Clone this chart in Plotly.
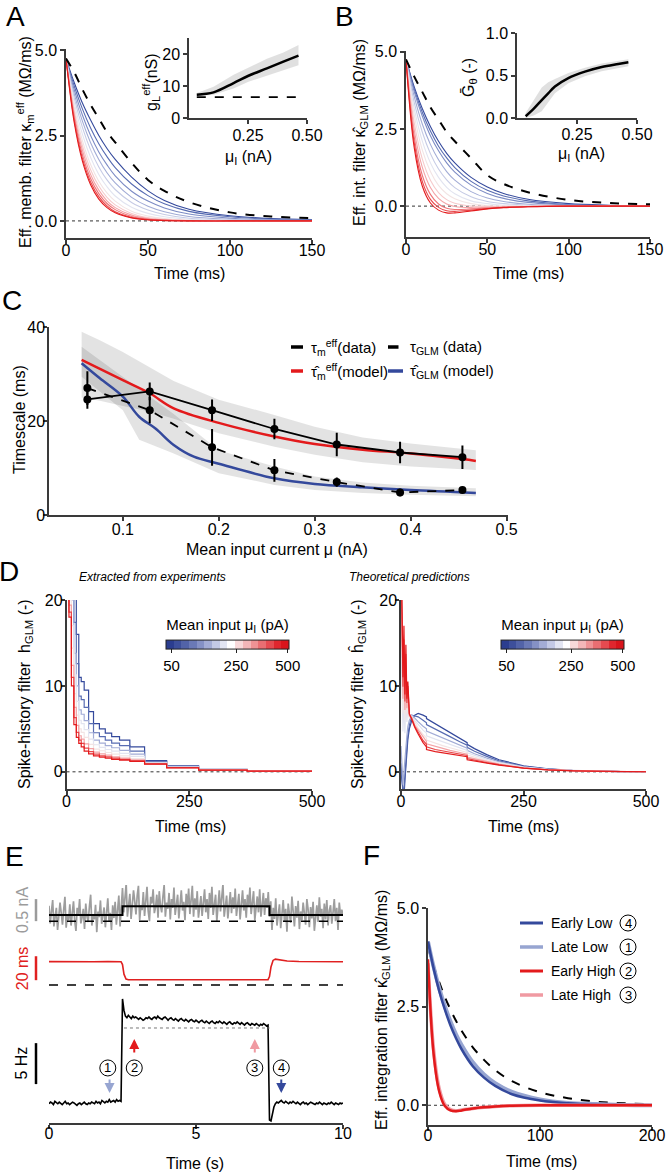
import numpy as np
import plotly.graph_objects as go

W, H = 670, 1174
FONT = "Liberation Sans, Arial, sans-serif"
NARROW = "Liberation Sans Narrow, Arial Narrow, Liberation Sans, sans-serif"

# ---------------- A: effective membrane filters (red = high input, blue = low input)
t_filter = [0, 5, 10, 15, 20, 25, 30, 40, 50, 60, 75, 100, 125, 150]
kappa_m = [
    [4.75, 2.88, 1.75, 1.06, 0.64, 0.39, 0.24, 0.09, 0.03, 0.01, 0, 0, 0, 0],
    [4.75, 2.95, 1.83, 1.14, 0.71, 0.44, 0.27, 0.10, 0.04, 0.02, 0, 0, 0, 0],
    [4.75, 3.04, 1.94, 1.24, 0.80, 0.51, 0.33, 0.13, 0.05, 0.02, 0.01, 0, 0, 0],
    [4.75, 3.13, 2.07, 1.36, 0.90, 0.59, 0.39, 0.17, 0.07, 0.03, 0.01, 0, 0, 0],
    [4.75, 3.23, 2.20, 1.50, 1.02, 0.69, 0.47, 0.22, 0.10, 0.05, 0.01, 0, 0, 0],
    [4.75, 3.34, 2.35, 1.65, 1.16, 0.82, 0.58, 0.28, 0.14, 0.07, 0.02, 0.01, 0, 0],
    [4.75, 3.47, 2.54, 1.86, 1.36, 1.00, 0.73, 0.40, 0.22, 0.12, 0.05, 0.02, 0.01, 0],
    [4.75, 3.60, 2.74, 2.08, 1.58, 1.20, 0.92, 0.54, 0.32, 0.19, 0.08, 0.03, 0.01, 0.01],
    [4.75, 3.72, 2.92, 2.29, 1.80, 1.41, 1.11, 0.69, 0.43, 0.27, 0.13, 0.05, 0.02, 0.01],
    [4.75, 3.84, 3.10, 2.50, 2.02, 1.64, 1.32, 0.87, 0.58, 0.38, 0.20, 0.08, 0.03, 0.02],
    [4.75, 3.95, 3.28, 2.72, 2.26, 1.88, 1.56, 1.08, 0.74, 0.50, 0.28, 0.12, 0.05, 0.03],
    [4.75, 4.05, 3.45, 2.95, 2.50, 2.12, 1.80, 1.28, 0.88, 0.60, 0.34, 0.15, 0.07, 0.04],
]
kappa_m_passive = [4.75, 4.35, 3.85, 3.4, 3.0, 2.6, 2.3, 1.7, 1.2, 0.88, 0.55, 0.25, 0.13, 0.08]

mu_gl = [0.033, 0.104, 0.189, 0.252, 0.330, 0.400, 0.464]
gl_eff = [7.3, 8.0, 10.9, 13.2, 15.5, 17.6, 19.5]
gl_hi = [7.8, 9.8, 13.5, 15.8, 18.5, 20.5, 22.8]
gl_lo = [6.8, 7.3, 9.2, 11.3, 13.2, 15.0, 16.5]
gl_rest = 6.5
gl_rest_mu = [0.033, 0.48]

# ---------------- B: effective integration filters
kappa_glm = [
    [4.75, 1.91, 0.65, 0.10, -0.13, -0.22, -0.22, -0.16, -0.09, -0.05, -0.02, 0, 0, 0],
    [4.75, 2.07, 0.80, 0.22, -0.04, -0.15, -0.17, -0.13, -0.08, -0.04, -0.02, 0, 0, 0],
    [4.75, 2.26, 1.00, 0.38, 0.07, -0.07, -0.11, -0.09, -0.06, -0.04, -0.01, 0, 0, 0],
    [4.75, 2.49, 1.26, 0.60, 0.25, 0.07, -0.01, -0.05, -0.04, -0.03, -0.01, 0, 0, 0],
    [4.75, 2.72, 1.53, 0.84, 0.44, 0.21, 0.09, 0.00, -0.01, -0.02, -0.01, 0, 0, 0],
    [4.75, 2.96, 1.82, 1.12, 0.67, 0.40, 0.24, 0.08, 0.02, 0.01, 0, 0, 0, 0],
    [4.75, 3.17, 2.11, 1.40, 0.93, 0.61, 0.40, 0.17, 0.08, 0.03, 0.01, 0, 0, 0],
    [4.75, 3.37, 2.40, 1.70, 1.20, 0.85, 0.60, 0.30, 0.15, 0.08, 0.03, 0, 0, 0],
    [4.75, 3.56, 2.66, 2.00, 1.50, 1.12, 0.84, 0.47, 0.26, 0.15, 0.06, 0.01, 0, 0],
    [4.75, 3.72, 2.92, 2.28, 1.79, 1.40, 1.10, 0.68, 0.41, 0.25, 0.12, 0.04, 0.01, 0],
    [4.75, 3.80, 3.04, 2.43, 1.94, 1.56, 1.25, 0.80, 0.51, 0.33, 0.17, 0.05, 0.02, 0.01],
    [4.75, 3.87, 3.16, 2.58, 2.10, 1.71, 1.40, 0.93, 0.62, 0.41, 0.22, 0.08, 0.03, 0.01],
]
kappa_glm_passive = [4.75, 4.2, 3.7, 3.2, 2.8, 2.4, 2.1, 1.55, 1.0, 0.72, 0.45, 0.2, 0.1, 0.06]

mu_g = [0.036, 0.07, 0.103, 0.13, 0.158, 0.214, 0.283, 0.353, 0.422, 0.464]
g_theta = [0.02, 0.11, 0.21, 0.29, 0.37, 0.47, 0.545, 0.60, 0.635, 0.655]
g_theta_hi = [0.06, 0.22, 0.36, 0.42, 0.46, 0.53, 0.59, 0.64, 0.67, 0.69]
g_theta_lo = [0.0, 0.03, 0.08, 0.18, 0.29, 0.41, 0.49, 0.55, 0.59, 0.61]

# ---------------- C: timescales
mu_data = [0.063, 0.128, 0.193, 0.258, 0.323, 0.389, 0.454]
tau_m_data = [24.6, 26.3, 22.3, 18.3, 15.0, 13.3, 12.3]
tau_m_err = [2.0, 1.9, 2.3, 2.2, 2.5, 2.3, 2.5]
tau_glm_data = [27.0, 22.3, 14.4, 9.5, 7.0, 4.8, 5.3]
tau_glm_err = [3.6, 2.8, 3.9, 2.4, 1.0, 0.8, 0.5]

mu_red = [0.057, 0.1, 0.128, 0.153, 0.2, 0.258, 0.3, 0.35, 0.4, 0.454, 0.468]
tau_m_model = [33.0, 28.7, 25.9, 22.7, 19.6, 16.7, 15.1, 13.9, 13.1, 11.9, 11.5]
mu_blue = [0.057, 0.076, 0.1, 0.117, 0.134, 0.153, 0.174, 0.2, 0.258, 0.3, 0.35, 0.4, 0.468]
tau_glm_model = [32.3, 29.1, 25.2, 20.9, 18.4, 14.9, 12.4, 10.9, 7.8, 6.6, 5.9, 5.3, 4.7]

mu_band1 = [0.057, 0.076, 0.1, 0.128, 0.153, 0.2, 0.258, 0.3, 0.35, 0.4, 0.468]
band1_hi = [39.0, 37.2, 34.7, 31.5, 28.5, 24.5, 21.3, 18.8, 16.5, 15.2, 13.8]
band1_lo = [25.0, 24.3, 23.2, 22.0, 20.5, 17.4, 14.5, 12.8, 11.2, 10.3, 9.6]
mu_band2 = [0.057, 0.1, 0.117, 0.153, 0.2, 0.258, 0.3, 0.35, 0.4, 0.468]
band2_hi = [35.8, 29.4, 27.0, 21.5, 13.8, 10.3, 8.2, 6.9, 6.2, 5.7]
band2_lo = [29.4, 22.3, 16.0, 13.1, 8.9, 6.4, 5.3, 4.7, 4.3, 4.0]

# ---------------- D: spike-history filters
h_edges = [0, 5, 10, 15, 20, 25, 30, 36, 45, 55, 67, 79, 92, 108, 129, 159, 204, 269, 368, 500]
h_exp = [  # red -> blue, one value per bin
    [25, 18, 10, 5.5, 4.0, 3.3, 2.9, 2.4, 2.1, 1.85, 1.7, 1.6, 1.45, 1.35, 1.2, 0.9, 0.47, 0.2, 0.08],
    [25.3, 18.6, 11.0, 6.3, 4.6, 3.7, 3.3, 2.75, 2.35, 2.05, 1.85, 1.75, 1.6, 1.45, 1.3, 0.92, 0.48, 0.2, 0.08],
    [25.6, 19.4, 12.4, 7.5, 5.4, 4.2, 3.8, 3.25, 2.7, 2.3, 2.1, 1.95, 1.75, 1.6, 1.4, 0.95, 0.5, 0.21, 0.08],
    [26.1, 20.6, 14.4, 9.1, 6.6, 5.0, 4.6, 4.0, 3.2, 2.65, 2.45, 2.25, 2.05, 1.85, 1.55, 1.0, 0.52, 0.22, 0.07],
    [26.8, 22.2, 17.0, 11.3, 8.2, 6.0, 5.6, 4.9, 3.8, 3.15, 2.85, 2.6, 2.4, 2.15, 1.8, 1.05, 0.55, 0.24, 0.07],
    [27.5, 24.0, 20.0, 13.8, 10.0, 7.2, 6.7, 5.95, 4.55, 3.7, 3.35, 3.05, 2.8, 2.5, 2.05, 1.1, 0.58, 0.25, 0.06],
    [28.6, 26.6, 24.4, 17.4, 12.6, 8.8, 8.4, 7.5, 5.6, 4.55, 4.1, 3.7, 3.35, 3.05, 2.4, 1.2, 0.64, 0.27, 0.06],
    [30, 30, 30, 22, 16, 11, 10.5, 9.5, 7.0, 5.6, 5.0, 4.5, 4.1, 3.7, 2.9, 1.3, 0.7, 0.3, 0.05],
]
t_hth = [0, 2, 4, 6, 8, 10, 12, 14, 17, 22, 28, 35, 45, 52, 52, 70, 85, 100, 120, 135, 135, 150, 175, 200, 250, 300, 350, 400, 450, 500]
h_th = [
    [25, 20, 11, 17, 9, 14.8, 8.5, 10.5, 6.8, 6.0, 5.2, 4.4, 3.4, 2.9, 2.6, 2.35, 2.2, 2.05, 1.9, 1.75, 1.4, 1.25, 1.0, 0.78, 0.42, 0.22, 0.12, 0.06, 0.03, 0.01],
    [23.0, 18.3, 9.9, 15.4, 8.2, 13.7, 8.0, 10.0, 6.7, 6.2, 5.3, 4.6, 3.65, 3.2, 2.9, 2.6, 2.45, 2.25, 2.05, 1.9, 1.55, 1.35, 1.08, 0.83, 0.44, 0.23, 0.12, 0.06, 0.03, 0.01],
    [20.5, 16.2, 8.5, 13.4, 7.2, 12.3, 7.4, 9.3, 6.5, 6.3, 5.45, 4.85, 4.0, 3.55, 3.25, 2.95, 2.7, 2.5, 2.25, 2.05, 1.7, 1.5, 1.18, 0.89, 0.47, 0.24, 0.13, 0.06, 0.03, 0.01],
    [17.5, 13.7, 6.8, 11.0, 6.0, 10.7, 6.7, 8.5, 6.3, 6.4, 5.8, 5.1, 4.35, 3.95, 3.7, 3.3, 3.05, 2.8, 2.5, 2.25, 1.95, 1.7, 1.3, 0.97, 0.5, 0.26, 0.14, 0.07, 0.03, 0.01],
    [13.8, 10.6, 4.7, 8.0, 4.5, 8.6, 5.8, 7.5, 6.3, 6.5, 6.0, 5.5, 4.85, 4.5, 4.2, 3.8, 3.5, 3.2, 2.8, 2.5, 2.2, 1.9, 1.45, 1.06, 0.55, 0.28, 0.14, 0.07, 0.03, 0.01],
    [3, 1, -1.5, 0, 1.5, 3.5, 4.2, 5.3, 6.0, 6.6, 6.2, 5.85, 5.3, 5.0, 4.75, 4.3, 3.95, 3.6, 3.1, 2.75, 2.5, 2.1, 1.6, 1.15, 0.59, 0.3, 0.15, 0.07, 0.03, 0.01],
    [1, -0.5, -2.5, -2.2, 0, 2, 3, 4.2, 5.4, 6.6, 6.5, 6.4, 6.0, 5.7, 5.5, 5.0, 4.5, 4.1, 3.5, 3.1, 2.85, 2.4, 1.8, 1.28, 0.64, 0.32, 0.16, 0.08, 0.03, 0.01],
    [0, -1, -3, -3, -1, 1, 2.5, 3.8, 5.0, 6.0, 6.6, 6.8, 6.6, 6.4, 6.2, 5.6, 5.1, 4.6, 3.9, 3.4, 3.2, 2.7, 2.0, 1.4, 0.7, 0.35, 0.17, 0.08, 0.03, 0.01],
]
cbar_ticks = ["50", "250", "500"]

# ---------------- E: step protocol
step_on, step_off, t_end = 2.5, 7.5, 10.0
input_mean = [0.14, 0.34, 0.14, 0.14]
input_mean_t = [0, step_on, step_off, t_end]
noise_low1 = [0.35, -0.05, 0.22, 0.48, -0.12, 0.1, 0.3, -0.2, 0.05, 0.42, 0.18, -0.08, 0.26, 0.55, -0.15,
              0.12, 0.02, 0.38, -0.1, 0.2, 0.45, 0.0, -0.22, 0.3, 0.15, 0.5, -0.05, 0.08, 0.28, -0.18,
              0.4, 0.1, -0.02, 0.33, 0.6, -0.1, 0.16, 0.04, 0.37, -0.25, 0.22, 0.09, 0.47, -0.06, 0.14,
              0.31, -0.14, 0.25, 0.52, 0.0, 0.19, -0.2, 0.36, 0.07, 0.44, -0.08, 0.2, 0.58, -0.12, 0.27]
noise_high = [0.75, 0.2, 0.5, 0.85, 0.1, 0.4, 0.62, 0.05, 0.3, 0.7, 0.45, 0.15, 0.58, 0.8, 0.02, 0.36, 0.25,
              0.66, 0.12, 0.48, 0.78, 0.22, 0.0, 0.55, 0.4, 0.72, 0.18, 0.32, 0.6, 0.08, 0.68, 0.35, 0.2,
              0.56, 0.82, 0.1, 0.42, 0.28, 0.64, 0.04, 0.5, 0.3, 0.76, 0.14, 0.38, 0.6, 0.06, 0.47, 0.7,
              0.24, 0.44, 0.02, 0.62, 0.33, 0.74, 0.16, 0.46, 0.8, 0.1, 0.52, 0.26, 0.68, 0.08, 0.4, 0.57,
              0.12, 0.36, 0.72, 0.2, 0.5, 0.05, 0.64, 0.3, 0.78, 0.14, 0.44, 0.6, 0.0, 0.38, 0.7, 0.22,
              0.48, 0.84, 0.1, 0.34, 0.58, 0.06, 0.42, 0.66, 0.18, 0.54, 0.28, 0.74, 0.12, 0.4, 0.62, 0.04,
              0.36, 0.7, 0.24, 0.5, 0.08, 0.6, 0.32, 0.76, 0.16, 0.46, 0.68, 0.02, 0.38, 0.56, 0.2, 0.72,
              0.1, 0.44, 0.64, 0.14, 0.52, 0.3, 0.66]
noise_low2 = [0.1, 0.45, -0.2, 0.3, 0.05, 0.52, -0.1, 0.24, 0.38, -0.16, 0.12, 0.48, 0.0, 0.28, -0.24, 0.4,
              0.16, -0.04, 0.56, 0.2, -0.12, 0.34, 0.08, 0.46, -0.18, 0.22, 0.02, 0.42, 0.14, -0.08, 0.5,
              0.26, -0.14, 0.32, 0.06, 0.44, -0.22, 0.18, 0.36, -0.02, 0.54, 0.1, 0.28, -0.16, 0.4, 0.04,
              0.48, -0.1, 0.24, 0.36, -0.06, 0.2, 0.5, 0.0, 0.3, -0.2, 0.42, 0.12, 0.26, 0.15]
tau_t = [0, 0.5, 1, 1.5, 2, 2.45, 2.5, 2.55, 2.62, 2.7, 3, 4, 5, 6, 7, 7.45, 7.5, 7.55, 7.62, 7.7, 7.85, 8.1, 8.5, 9, 9.5, 10]
tau_glm_t = [19.5, 19.3, 19.6, 19.4, 19.5, 19.4, 17, 9, 5.0, 4.4, 4.3, 4.2, 4.3, 4.2, 4.4, 4.5, 7, 15, 20.5, 21.6, 21.0, 20.0, 19.6, 19.5, 19.3, 19.4]
rate_low1 = [2.6, 2.8, 2.7, 2.5, 2.9, 2.7, 2.6, 2.8, 2.6, 2.5, 2.7, 2.9, 2.6, 2.7, 2.5, 2.6, 2.8, 2.7, 2.6, 2.4,
             2.6, 2.7, 2.5, 2.6, 2.8, 2.6, 2.5, 2.7, 2.6, 2.8, 2.7, 2.6, 2.9, 2.7, 2.8, 2.6, 3.0, 2.8, 2.7, 2.9,
             2.8, 3.1, 2.8, 2.9, 3.0, 2.8, 3.1, 2.9, 3.0, 2.9]
rate_high = [15.4, 14.0, 13.3, 13.1, 13.4, 13.2, 13.0, 13.3, 13.1, 13.2, 13.0, 12.9, 13.1, 13.0, 12.8, 12.9,
             13.1, 13.0, 13.2, 13.0, 12.9, 13.1, 13.2, 13.0, 13.3, 13.1, 13.0, 12.9, 13.1, 13.2, 13.0, 12.8,
             13.0, 13.1, 12.9, 12.8, 13.0, 12.9, 12.7, 12.9, 13.0, 12.8, 12.7, 12.9, 12.8, 12.6, 12.8, 12.9,
             12.7, 12.6, 12.8, 12.7, 12.5, 12.7, 12.8, 12.6, 12.5, 12.7, 12.6, 12.4, 12.6, 12.7, 12.5, 12.4,
             12.6, 12.5, 12.7, 12.5, 12.4, 12.6, 12.5, 12.3, 12.5, 12.6, 12.4, 12.3, 12.5, 12.4, 12.6, 12.4,
             12.3, 12.5, 12.4, 12.2, 12.4, 12.5, 12.3, 12.2, 12.4, 12.3, 12.2, 12.4, 12.3, 12.1, 12.3, 12.2,
             12.4, 12.2, 12.1, 12.2]
rate_low2 = [0.6, 0.5, 1.4, 2.2, 2.6, 2.8, 2.7, 2.9, 3.0, 2.8, 2.7, 2.9, 2.8, 2.6, 2.8, 2.7, 2.9, 2.7, 2.6,
             2.8, 2.7, 2.5, 2.7, 2.8, 2.6, 2.7, 2.5, 2.6, 2.8, 2.7, 2.6, 2.5, 2.7, 2.6, 2.8, 2.6, 2.5, 2.7,
             2.6, 2.5, 2.7, 2.6, 2.8, 2.6, 2.5, 2.7, 2.6, 2.5, 2.7, 2.6, 2.7]
rate_ss_high = 11.85
event_t = [2.0, 2.9, 7.0, 7.9]
event_lbl = ["1", "2", "3", "4"]

# ---------------- F: filters at the four moments
t_F = [0, 5, 10, 15, 20, 25, 30, 40, 50, 60, 75, 100, 125, 150, 175, 200]
kF_passive = [4.0, 3.53, 3.12, 2.75, 2.43, 2.14, 1.89, 1.47, 1.15, 0.89, 0.61, 0.33, 0.18, 0.09, 0.05, 0.03]
kF_early_low = [4.15, 3.47, 2.90, 2.43, 2.03, 1.70, 1.42, 0.99, 0.70, 0.49, 0.28, 0.12, 0.05, 0.02, 0.01, 0]
kF_late_low = [4.15, 3.51, 2.97, 2.52, 2.13, 1.80, 1.53, 1.09, 0.78, 0.56, 0.34, 0.15, 0.06, 0.03, 0.01, 0]
kF_early_high = [3.7, 1.3, 0.35, -0.02, -0.13, -0.15, -0.13, -0.08, -0.05, -0.03, -0.01, 0, 0, 0, 0, 0]
kF_late_high = [3.6, 1.4, 0.42, 0.02, -0.11, -0.14, -0.12, -0.08, -0.05, -0.03, -0.01, 0, 0, 0, 0, 0]
F_labels = ["Early Low", "Late Low", "Early High", "Late High"]
F_nums = ["4", "1", "2", "3"]

# ---------------- styles
RAMP = ["#e31a1c", "#e8474a", "#ee7478", "#f4a3a6", "#f6cacb", "#f2e4e4",
        "#e2e4f0", "#c6cbe5", "#a2acd6", "#7d8cc5", "#586cb2", "#34499c"]
D_COLORS = [RAMP[i] for i in (0, 1, 3, 5, 6, 8, 10, 11)]
CBAR = ["#2b3d8f", "#3d4f9b", "#5263a8", "#6a79b6", "#8591c5", "#a3acd5", "#c3c9e5", "#e2e5f2",
        "#ffffff", "#f8d9da", "#f3b6b8", "#ee9295", "#e96e72", "#e54a50", "#e0262e", "#d9141c"]
RED, BLUE = "#e31a1c", "#34499c"
LBLUE, PINK = "#97a5d1", "#f09aa2"
AXC = "#3a3a3a"


def xd(a, b):
    return [a / W, b / W]


def yd(top, bottom):
    return [1 - bottom / H, 1 - top / H]


def axis(domain, rng, tickvals, anchor, fmt=None, font=FONT, size=16, tls=0):
    d = dict(domain=domain, range=rng, anchor=anchor, showline=True, linecolor=AXC, linewidth=1.5,
             ticks="outside", ticklen=4, tickwidth=1.5, tickcolor=AXC, showgrid=False, zeroline=False,
             tickvals=tickvals, tickfont=dict(family=font, size=size, color="black"), automargin=False,
             ticklabelstandoff=tls)
    if fmt:
        d["tickformat"] = fmt
    return d


def hidden(domain, rng, anchor):
    return dict(domain=domain, range=rng, anchor=anchor, showline=False, showticklabels=False,
                ticks="", showgrid=False, zeroline=False)


fig = go.Figure()


def add_line(x, y, xa, ya, color, width=1.2, dash=None, shape="linear"):
    fig.add_trace(go.Scatter(x=x, y=y, xaxis=xa, yaxis=ya, mode="lines", hoverinfo="skip",
                             line=dict(color=color, width=width, dash=dash, shape=shape)))


def add_band(x, lo, hi, xa, ya, color="rgba(0,0,0,0.12)"):
    fig.add_trace(go.Scatter(x=list(x) + list(x)[::-1], y=list(hi) + list(lo)[::-1], xaxis=xa, yaxis=ya,
                             mode="lines", fill="toself", fillcolor=color, line=dict(width=0),
                             hoverinfo="skip"))


# A
for vals, c in list(zip(kappa_m, RAMP))[::-1]:
    add_line(t_filter, vals, "x", "y", c, 1.1, shape="spline")
add_line(t_filter, kappa_m_passive, "x", "y", "black", 2, "dash", "spline")
add_band(mu_gl, gl_lo, gl_hi, "x2", "y2")
add_line(mu_gl, gl_eff, "x2", "y2", "black", 2.5, shape="spline")
add_line(gl_rest_mu, [gl_rest, gl_rest], "x2", "y2", "black", 1.8, "dash")

# B
for vals, c in list(zip(kappa_glm, RAMP))[::-1]:
    add_line(t_filter, vals, "x3", "y3", c, 1.1, shape="spline")
add_line(t_filter, kappa_glm_passive, "x3", "y3", "black", 2, "dash", "spline")
add_band(mu_g, g_theta_lo, g_theta_hi, "x4", "y4")
add_line(mu_g, g_theta, "x4", "y4", "black", 2.5, shape="spline")

# C
add_band(mu_band1, band1_lo, band1_hi, "x5", "y5", "rgba(0,0,0,0.11)")
add_band(mu_band2, band2_lo, band2_hi, "x5", "y5", "rgba(0,0,0,0.11)")
add_line(mu_red, tau_m_model, "x5", "y5", RED, 2.5, shape="spline")
add_line(mu_blue, tau_glm_model, "x5", "y5", BLUE, 2.5, shape="spline")
for vals, err, dash in ((tau_glm_data, tau_glm_err, "dash"), (tau_m_data, tau_m_err, None)):
    fig.add_trace(go.Scatter(x=mu_data, y=vals, xaxis="x5", yaxis="y5", mode="lines+markers",
                             line=dict(color="black", width=1.8, dash=dash),
                             marker=dict(color="black", size=8),
                             error_y=dict(type="data", array=err, color="black", thickness=2, width=0),
                             hoverinfo="skip"))

# D
for vals, c in list(zip(h_exp, D_COLORS))[::-1]:
    add_line(h_edges, vals + [vals[-1]], "x6", "y6", c, 1.2, shape="hv")
for vals, c in list(zip(h_th, D_COLORS))[::-1]:
    add_line(t_hth, vals, "x7", "y7", c, 1.2)
cscale = []
for i, c in enumerate(CBAR):
    cscale += [[i / len(CBAR), c], [(i + 1) / len(CBAR), c]]
for xa, ya, x0, x1 in (("x6", "y6", 166, 289), ("x7", "y7", 501, 624)):
    fig.add_trace(go.Scatter(
        x=[None, None], y=[None, None], xaxis=xa, yaxis=ya, mode="markers", hoverinfo="skip",
        marker=dict(color=[0, 1], cmin=0, cmax=1, colorscale=cscale, showscale=True,
                    colorbar=dict(orientation="h", x=(x0 + x1) / 2 / W, xanchor="center",
                                  y=1 - 647.5 / H, yanchor="middle", len=x1 - x0, lenmode="pixels",
                                  thickness=9, thicknessmode="pixels", outlinewidth=1, outlinecolor="#222",
                                  tickvals=[0.045, 0.57, 0.99], ticktext=cbar_ticks, ticks="outside",
                                  ticklen=4, tickcolor="#222", xpad=0, ypad=0,
                                  tickfont=dict(family=FONT, size=15, color="black"),
                                  title=dict(text="Mean input μ<sub>I</sub> (pA)", side="top",
                                             font=dict(family=FONT, size=15, color="black"))))))

# E
seg_t = np.concatenate([np.linspace(0, step_on, len(noise_low1), endpoint=False),
                        np.linspace(step_on, step_off, len(noise_high), endpoint=False),
                        np.linspace(step_off, t_end, len(noise_low2))])
add_line(seg_t, noise_low1 + noise_high + noise_low2, "x8", "y10", "#9d9d9d", 1.7)
add_line(input_mean_t, input_mean, "x8", "y10", "black", 2, shape="hv")
add_line(tau_t, tau_glm_t, "x8", "y9", "#e02020", 1.6)
rate_t = np.concatenate([np.linspace(0, step_on - 0.05, len(rate_low1)),
                         np.linspace(step_on, step_off - 0.05, len(rate_high)),
                         np.linspace(step_off, t_end, len(rate_low2))])
add_line(rate_t, rate_low1 + rate_high + rate_low2, "x8", "y8", "black", 1.6)

# F
add_line(t_F, kF_passive, "x11", "y11", "black", 2, "dash", "spline")
add_line(t_F, kF_late_low, "x11", "y11", LBLUE, 4, shape="spline")
add_line(t_F, kF_early_low, "x11", "y11", BLUE, 2.5, shape="spline")
add_line(t_F, kF_late_high, "x11", "y11", PINK, 3.5, shape="spline")
add_line(t_F, kF_early_high, "x11", "y11", RED, 2.5, shape="spline")

# ---------------- layout
lay = dict(
    xaxis=axis(xd(66, 312), [0, 150], [0, 50, 100, 150], "y", tls=-7),
    yaxis=axis(yd(49.4, 238), [-0.5, 5.02], [0, 2.5, 5], "x", ".1f"),
    xaxis2=axis(xd(189, 307), [0, 0.5], [0.25, 0.5], "y2", ".2f", tls=-2),
    yaxis2=axis(yd(38, 118), [0, 25], [0, 10, 20], "x2"),
    xaxis3=axis(xd(406, 650), [0, 150], [0, 50, 100, 150], "y3", tls=-7),
    yaxis3=axis(yd(51.1, 237), [-1, 5.02], [0, 2.5, 5], "x3", ".1f"),
    xaxis4=axis(xd(517, 637), [0, 0.5], [0.25, 0.5], "y4", ".2f", tls=-3),
    yaxis4=axis(yd(33, 118), [0, 1.0], [0, 0.5, 1.0], "x4", ".1f"),
    xaxis5=axis(xd(49, 507.5), [0.023, 0.501], [0.1, 0.2, 0.3, 0.4, 0.5], "y5", ".1f", font=NARROW, tls=-5),
    yaxis5=axis(yd(327, 515), [0, 40], [0, 20, 40], "x5", font=NARROW, tls=-5),
    xaxis6=axis(xd(66.5, 312), [0, 500], [0, 250, 500], "y6", tls=-7),
    yaxis6=axis(yd(600, 789), [-2, 20], [0, 10, 20], "x6", tls=-5),
    xaxis7=axis(xd(401, 646), [0, 500], [0, 250, 500], "y7", tls=-7),
    yaxis7=axis(yd(600, 789), [-2, 20], [0, 10, 20], "x7", tls=-5),
    xaxis8=axis(xd(49, 343), [0, 10], [0, 5, 10], "y8", tls=-9),
    yaxis8=hidden(yd(994, 1123), [0.25, 16.0], "x8"),
    yaxis9=hidden(yd(950, 990), [-4.2, 29.2], "x8"),
    yaxis10=hidden(yd(885, 937), [-0.36, 0.82], "x8"),
    xaxis11=axis(xd(428, 652), [0, 200], [0, 100, 200], "y11", tls=-9),
    yaxis11=axis(yd(908, 1125), [-0.5, 5.0], [0, 2.5, 5], "x11", ".1f"),
)

shapes = []
for xa, ya in (("x", "y"), ("x3", "y3"), ("x6", "y6"), ("x7", "y7"), ("x11", "y11")):
    shapes.append(dict(type="line", xref=f"{xa} domain", x0=0, x1=1, yref=ya, y0=0, y1=0,
                       line=dict(color="#333", width=1, dash="dot"), layer="below"))
# E reference lines
shapes.append(dict(type="line", xref="x8 domain", x0=0, x1=1, yref="y10", y0=0, y1=0,
                   line=dict(color="black", width=1.5, dash="dash")))
shapes.append(dict(type="line", xref="x8 domain", x0=0, x1=1, yref="y9", y0=0, y1=0,
                   line=dict(color="black", width=1.5, dash="dash")))
shapes.append(dict(type="line", xref="x8", x0=step_on + 0.05, x1=step_off, yref="y8",
                   y0=rate_ss_high, y1=rate_ss_high, line=dict(color="#777", width=1, dash="dot")))
# E scale bars
for ya, y0, y1, c in (("y10", 0, 0.5, "#9b9b9b"), ("y9", 4, 24, "#e02020"), ("y8", 5, 10, "black")):
    shapes.append(dict(type="line", xref="paper", x0=36 / W, x1=36 / W, yref=ya, y0=y0, y1=y1,
                       line=dict(color=c, width=2.5)))

ann = []


def label(txt, x, y, size=16, angle=0, color="black", family=FONT, xanchor="center"):
    ann.append(dict(text=txt, x=x / W, y=1 - y / H, xref="paper", yref="paper", showarrow=False,
                    xanchor=xanchor, yanchor="middle", textangle=angle,
                    font=dict(family=family, size=size, color=color)))


for txt, x, y in (("A", 15, 17), ("B", 344, 17), ("C", 12, 300), ("D", 9, 571), ("E", 14, 856), ("F", 371, 855)):
    label(txt, x, y, size=28)

# axis titles
label("Time (ms)", 189, 274)
label("Time (ms)", 528, 273)
label("μ<sub>I</sub> (nA)", 248, 157)
label("μ<sub>I</sub> (nA)", 581, 155)
label("Mean input current μ (nA)", 277, 549, family=NARROW)
label("Time (ms)", 190, 826)
label("Time (ms)", 523, 826)
label("Time (s)", 195, 1163)
label("Time (ms)", 541, 1161)
label("Eff. memb. filter κ<sub>m</sub><sup>eff</sup> (MΩ/ms)", 25, 142, angle=-90)
label("Eff. int. filter κ\u0302<sub>GLM</sub> (MΩ/ms)", 360, 133, angle=-90)
label("g<sub>L</sub><sup>eff</sup>(nS)", 151, 82, angle=-90)
label("Ḡ<sub>θ</sub> (-)", 470, 78, angle=-90)
label("Timescale (ms)", 19, 420, angle=-90, family=NARROW)
label("Spike-history filter  h<sub>GLM</sub> (-)", 25, 694, angle=-90)
label("Spike-history filter  h\u0302<sub>GLM</sub> (-)", 358, 694, angle=-90)
label("Eff. integration filter κ\u0302<sub>GLM</sub> (MΩ/ms)", 382, 1010, angle=-90)
label("<i>Extracted from experiments</i>", 152, 577, size=12, family=NARROW)
label("<i>Theoretical predictions</i>", 409, 577, size=12, family=NARROW)

for txt, ya, y, c in (("0.5 nA", "y10", 0.25, "#9b9b9b"), ("20 ms", "y9", 14, "#e02020"), ("5 Hz", "y8", 7.5, "black")):
    ann.append(dict(text=txt, x=22 / W, xref="paper", y=y, yref=ya, textangle=-90, showarrow=False,
                    xanchor="center", yanchor="middle", font=dict(family=FONT, size=16, color=c)))

# E arrows and circled labels
arrow_cols = [LBLUE, RED, PINK, BLUE]
for t, lbl, c in zip(event_t, event_lbl, arrow_cols):
    down = lbl in ("1", "4")
    ann.append(dict(text="", x=t + (0.06 if lbl == "1" else 0), y=3.91 if down else 10.51, xref="x8", yref="y8",
                    showarrow=True, arrowhead=2, arrowsize=1, arrowwidth=2, arrowcolor=c,
                    ax=0, ay=-15 if down else 15))
    ann.append(dict(text=lbl, x=t, y=6.97, xref="x8", yref="y8", showarrow=False, xanchor="center",
                    yanchor="middle", font=dict(family=FONT, size=13, color="black")))
    shapes.append(dict(type="circle", xref="x8", yref="y8", xsizemode="pixel", ysizemode="pixel",
                       xanchor=t, yanchor=6.97, x0=-8, x1=8, y0=-8, y1=8, line=dict(color="black", width=1)))

# C legend
c_leg = [("black", None, 291, 303, 347, "τ<sub>m</sub><sup>eff</sup>(data)", 309),
         ("black", "dash", 388, 403, 347, "τ<sub>GLM</sub> (data)", 408),
         (RED, None, 291, 303, 371, "τ\u0302<sub>m</sub><sup>eff</sup>(model)", 309),
         (BLUE, None, 388, 403, 371, "τ\u0302<sub>GLM</sub> (model)", 408)]
for c, dash, x0, x1, y, txt, tx in c_leg:
    shapes.append(dict(type="line", xref="paper", yref="paper", x0=x0 / W, x1=x1 / W, y0=1 - y / H, y1=1 - y / H,
                       line=dict(color=c, width=3.5, dash=dash)))
    label(txt, tx, y, size=15, family=NARROW, xanchor="left")

# F legend (positions in F axes domain fractions)
f_cols = [(BLUE, 3), (LBLUE, 3.5), (RED, 3), (PINK, 3.5)]


def fdx(px):
    return (px - 428) / (652 - 428)


def fdy(py):
    return (1125 - py) / (1125 - 908)


for i, (lbl, num) in enumerate(zip(F_labels, F_nums)):
    y = 923 + 24 * i
    c, w = f_cols[i]
    shapes.append(dict(type="line", xref="x11 domain", yref="y11 domain", x0=fdx(520), x1=fdx(543),
                       y0=fdy(y), y1=fdy(y), line=dict(color=c, width=w)))
    ann.append(dict(text=lbl, x=fdx(549), y=fdy(y), xref="x11 domain", yref="y11 domain", showarrow=False,
                    xanchor="left", yanchor="middle", font=dict(family=FONT, size=14, color="black")))
    shapes.append(dict(type="circle", xref="x11 domain", yref="y11 domain", x0=fdx(620), x1=fdx(636),
                       y0=fdy(y + 8), y1=fdy(y - 8), line=dict(color="black", width=1)))
    ann.append(dict(text=num, x=fdx(628), y=fdy(y), xref="x11 domain", yref="y11 domain", showarrow=False,
                    xanchor="center", yanchor="middle", font=dict(family=FONT, size=13, color="black")))

fig.update_layout(**lay)
fig.update_layout(width=W, height=H, margin=dict(l=0, r=0, t=0, b=0), showlegend=False,
                  plot_bgcolor="white", paper_bgcolor="white", font=dict(family=FONT, color="black"),
                  shapes=shapes, annotations=ann)
fig.write_html("out.html", config={"displayModeBar": False},
               post_script="document.body.style.margin='0';")
